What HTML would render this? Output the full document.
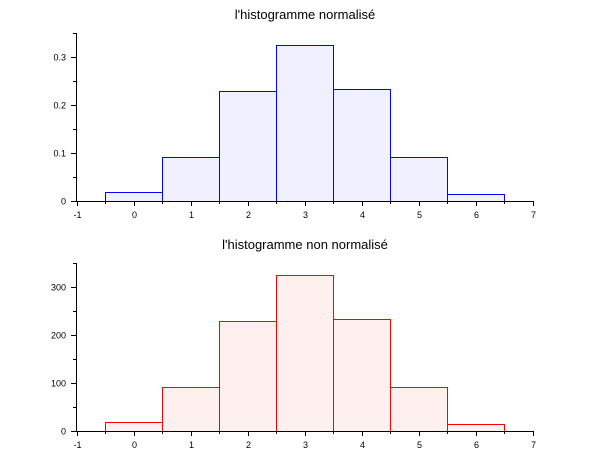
<!DOCTYPE html>
<html><head><meta charset="utf-8"><style>body{margin:0;background:#fff}svg{display:block}text{font-family:"Liberation Sans",sans-serif}</style></head>
<body>
<svg id="s" width="610" height="460" xmlns="http://www.w3.org/2000/svg" shape-rendering="crispEdges"></svg>
<script>
const s=document.getElementById('s');let h='';
const X=v=>76.5+(v+1)*57;
function plot(y0,scale,vals,stroke,fill,title,ty,yt,fmt,top){
  h+=`<text x="305" y="${ty}" font-size="13" text-anchor="middle" fill="#000">${title}</text>`;
  vals.forEach((v,i)=>{const x=Math.round(X(i-0.5))+0.5,w=57,yt2=Math.round(y0-v*scale)+0.5;
    h+=`<rect x="${x}" y="${yt2}" width="${w}" height="${y0+0.5-yt2}" fill="${fill}" stroke="${stroke}" stroke-width="1"/>`;});
  h+=`<line x1="76" y1="${y0+0.5}" x2="533" y2="${y0+0.5}" stroke="#000"/>`;
  h+=`<line x1="76.5" y1="${top}" x2="76.5" y2="${y0}" stroke="#000"/>`;
  for(let k=-2;k<=14;k++){const x=Math.round(X(k/2))+0.5;const L=k%2==0?5:3;
    h+=`<line x1="${x}" y1="${y0}" x2="${x}" y2="${y0+L}" stroke="#000"/>`;
    if(k%2==0)h+=`<text x="${x}" y="${y0+17}" font-size="9" text-anchor="middle">${k/2}</text>`;}
  yt.forEach((v,i)=>{const y=Math.round(y0-v*scale)+0.5;const maj=i%2==0;
    h+=`<line x1="${maj?71:73}" y1="${y}" x2="76" y2="${y}" stroke="#000"/>`;
    if(maj)h+=`<text x="66" y="${y+3}" font-size="9" text-anchor="end">${fmt(v)}</text>`;});
}
plot(201,480,[0.019,0.092,0.229,0.325,0.233,0.092,0.015],'#0000ff','#f0f0ff',"l'histogramme normalisé",19,[0,0.05,0.1,0.15,0.2,0.25,0.3,0.35],v=>v==0?'0':v.toFixed(1),33);
plot(431,0.48,[19,92,229,325,233,92,15],'#ff0000','#fff0f0',"l'histogramme non normalisé",249,[0,50,100,150,200,250,300,350],v=>v,263);
s.innerHTML=h;
</script>
</body></html>
